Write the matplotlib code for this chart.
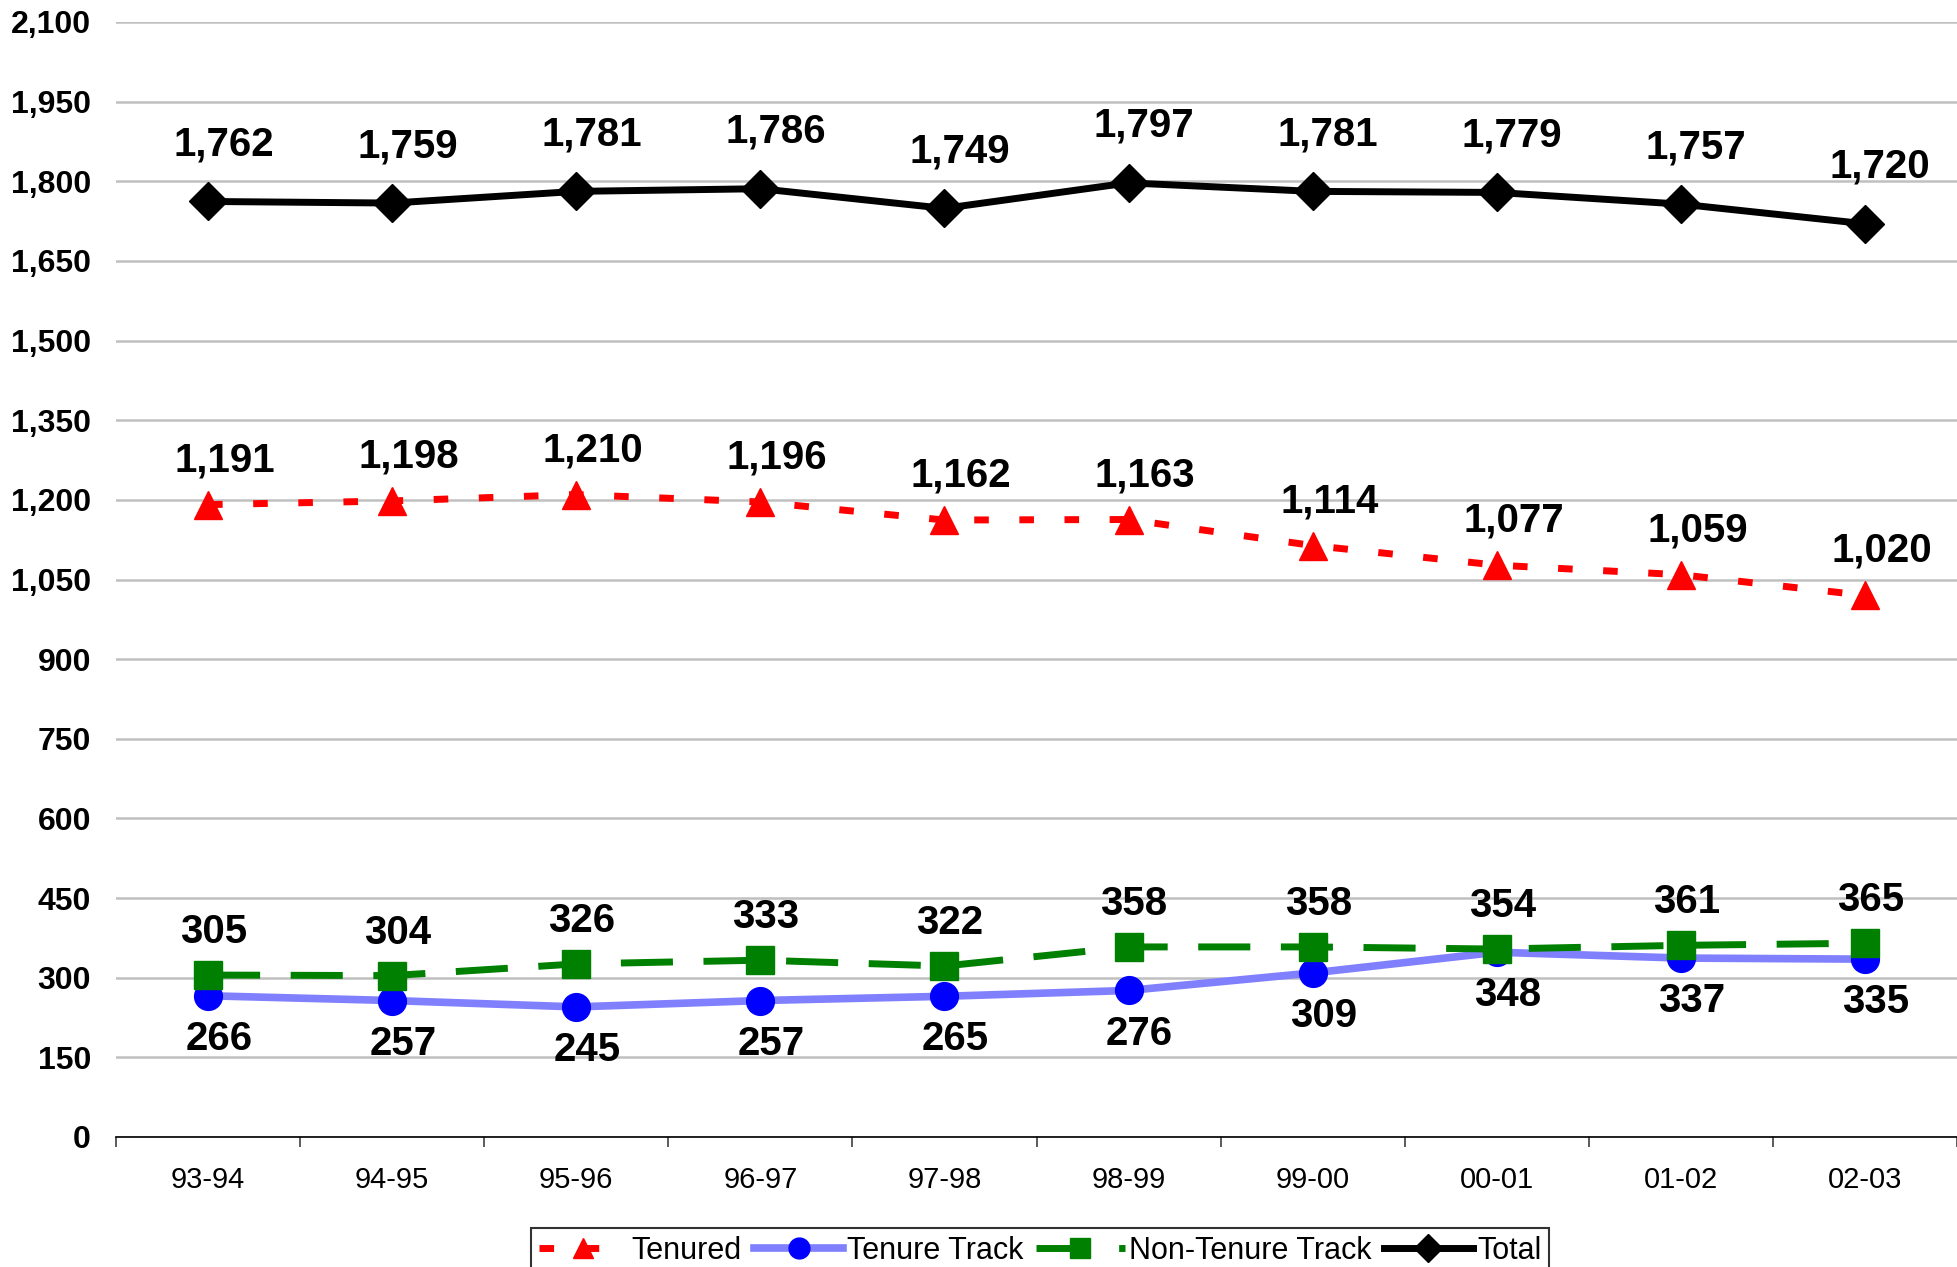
import matplotlib
matplotlib.use('Agg')
import matplotlib.pyplot as plt
from matplotlib.ticker import FuncFormatter, MultipleLocator

plt.rcParams['font.family'] = ['Liberation Sans', 'DejaVu Sans']

years = ['93-94', '94-95', '95-96', '96-97', '97-98', '98-99', '99-00', '00-01', '01-02', '02-03']
tenured = [1191, 1198, 1210, 1196, 1162, 1163, 1114, 1077, 1059, 1020]
tenure_track = [266, 257, 245, 257, 265, 276, 309, 348, 337, 335]
non_tenure_track = [305, 304, 326, 333, 322, 358, 358, 354, 361, 365]
total = [1762, 1759, 1781, 1786, 1749, 1797, 1781, 1779, 1757, 1720]

fig = plt.figure(figsize=(19.57, 12.67), dpi=100)
ax = fig.add_axes([116 / 1957, 1 - 1137 / 1267, 1 - 116 / 1957, (1137 - 22) / 1267])

x = list(range(len(years)))

ax.plot(x, tenured, color='#FF0000', lw=5, ls=(0, (2.1, 4.4)), marker='^', ms=20,
        label='Tenured')
ax.plot(x, tenure_track, color='#8080FF', lw=5.5, marker='o', ms=20,
        markerfacecolor='#0000FF', markeredgecolor='#0000FF', label='Tenure Track')
ax.plot(x, non_tenure_track, color='#008000', lw=5, ls=(0, (7.5, 4.4)), marker='s', ms=20,
        label='Non-Tenure Track')
ax.plot(x, total, color='black', lw=5, marker='D', ms=19, label='Total')

def put_labels(vals, dx, dy):
    for xi, v in zip(x, vals):
        ax.annotate(f'{v:,}', (xi, v), xytext=(dx, dy), textcoords='offset points',
                    ha='center', va='center', fontsize=29, fontweight='bold')

put_labels(total, 11, 41)
put_labels(tenured, 12, 32)
put_labels(non_tenure_track, 4, 31)
put_labels(tenure_track, 8, -31)

ax.set_xlim(-0.5, len(years) - 0.5)
ax.set_ylim(0, 2100)
ax.yaxis.set_major_locator(MultipleLocator(150))
ax.yaxis.set_major_formatter(FuncFormatter(lambda v, p: f'{int(v):,}'))
ax.grid(axis='y', color='#C0C0C0', lw=1.8)
ax.set_axisbelow(True)

ax.set_xticks(x)
ax.set_xticklabels(years)
ax.set_xticks([i - 0.5 for i in range(len(years) + 1)], minor=True)
ax.tick_params(axis='x', which='major', length=0, pad=21, labelsize=21)
ax.tick_params(axis='x', which='minor', length=7, width=1.2, color='#404040')
ax.tick_params(axis='y', length=0, pad=18, labelsize=23)
for lab in ax.get_yticklabels():
    lab.set_fontweight('bold')

for s in ['left', 'right', 'top']:
    ax.spines[s].set_visible(False)
ax.spines['bottom'].set_linewidth(1.2)

leg = fig.legend(loc='upper center', bbox_to_anchor=(1040 / 1957, 1 - 1228 / 1267), ncol=4,
                 fontsize=22, frameon=True, fancybox=False, edgecolor='black',
                 handlelength=2.9, handletextpad=0.15, columnspacing=0.4,
                 borderpad=0.25, borderaxespad=0, markerscale=0.75)
leg.get_frame().set_linewidth(1.5)

fig.savefig('out.png', dpi=100)
